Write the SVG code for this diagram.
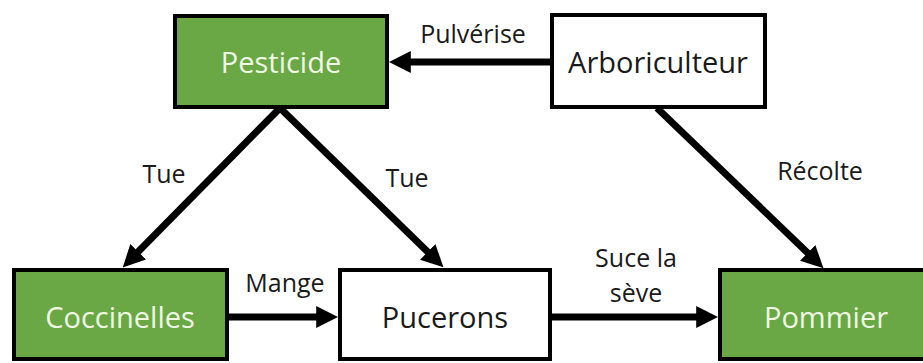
<svg xmlns="http://www.w3.org/2000/svg" width="923" height="363" viewBox="0 0 923 363">
<style>
.box{stroke:#000;stroke-width:4}
.g{fill:#6aa745}
.w{fill:#fff}
.nt{font-family:"Open Sans","Liberation Sans",sans-serif;font-size:29px;text-anchor:middle}
.gt{fill:#eef8e2}
.wt{fill:#1a1a1a}
.lbl{font-family:"Open Sans","Liberation Sans",sans-serif;font-size:25px;text-anchor:middle;fill:#1a1a1a}
.arr{stroke:#000;stroke-width:7;fill:none;marker-end:url(#ah)}
</style>
<defs>
<marker id="ah" viewBox="0 0 10 10" markerUnits="userSpaceOnUse" markerWidth="22" markerHeight="22" refX="4" refY="5" orient="auto">
<path d="M0,0 L10,5 L0,10 z" fill="#000"/>
</marker>
</defs>
<rect width="923" height="363" fill="#fff"/>
<g id="connectors">
<line class="arr" x1="550" y1="62" x2="402" y2="62"/>
<line class="arr" x1="229" y1="317" x2="325" y2="317"/>
<line class="arr" x1="552" y1="317" x2="705" y2="317"/>
<line class="arr" x1="280" y1="108" x2="132" y2="258"/>
<line class="arr" x1="280" y1="108" x2="434" y2="258"/>
<line class="arr" x1="657" y1="108" x2="814" y2="259"/>
<text class="lbl" x="473" y="43">Pulvérise</text>
<text class="lbl" x="285" y="292">Mange</text>
<text class="lbl" x="636" y="267">Suce la</text>
<text class="lbl" x="636" y="302">sève</text>
<text class="lbl" x="164" y="183">Tue</text>
<text class="lbl" x="407" y="187">Tue</text>
<text class="lbl" x="820" y="180">Récolte</text>
</g>
<g id="pesticide">
<rect class="box g" x="175" y="16" width="212" height="91"/>
<text class="nt gt" x="281" y="73">Pesticide</text>
</g>
<g id="arboriculteur">
<rect class="box w" x="552" y="15" width="213" height="92"/>
<text class="nt wt" x="658" y="73">Arboriculteur</text>
</g>
<g id="coccinelles">
<rect class="box g" x="14" y="270" width="213" height="89"/>
<text class="nt gt" x="120" y="328">Coccinelles</text>
</g>
<g id="pucerons">
<rect class="box w" x="340" y="270" width="210" height="89"/>
<text class="nt wt" x="445" y="328">Pucerons</text>
</g>
<g id="pommier">
<rect class="box g" x="720" y="270" width="215" height="89"/>
<text class="nt gt" x="826" y="328">Pommier</text>
</g>
</svg>
